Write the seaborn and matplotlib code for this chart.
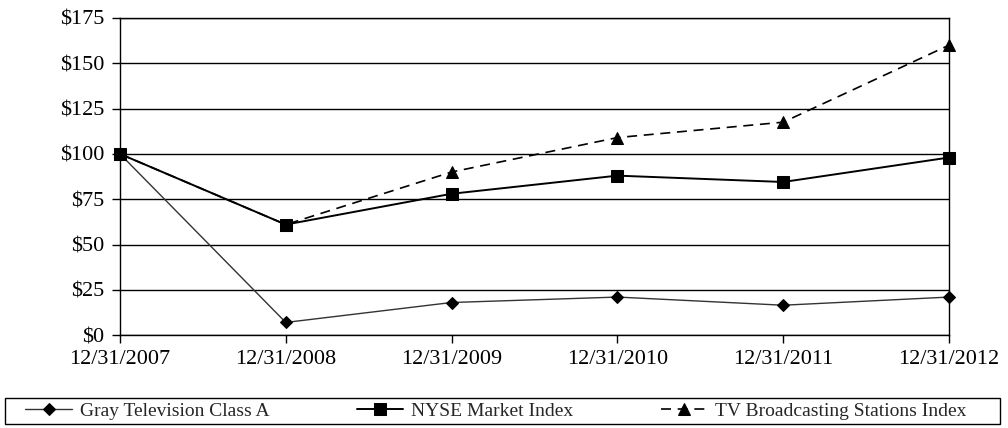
import numpy as np
import pandas as pd
import matplotlib.pyplot as plt
import seaborn as sns
from matplotlib.patches import Rectangle

dates = ["12/31/2007", "12/31/2008", "12/31/2009", "12/31/2010", "12/31/2011", "12/31/2012"]
gray_tv = [100, 7, 18, 21, 16.5, 21]
nyse = [100, 61, 78, 88, 84.5, 98]
tv_index = [100, 61, 90, 109, 117.5, 160]

series_names = ["Gray Television Class A", "NYSE Market Index", "TV Broadcasting Stations Index"]

sns.set_theme(style="white")
plt.rcParams["font.family"] = ["Liberation Serif", "DejaVu Serif"]

df = pd.DataFrame({
    "pos": list(range(len(dates))) * 3,
    "value": gray_tv + nyse + tv_index,
    "series": sum([[n] * len(dates) for n in series_names], []),
})

fig = plt.figure(figsize=(10.08, 4.28), dpi=100)
ax = fig.add_axes([0.119, 0.217, 0.8225, 0.741])

styles = {
    "Gray Television Class A": dict(color="#333333", lw=1.0, marker="D", ms=6, ls="-"),
    "NYSE Market Index": dict(color="black", lw=1.4, marker="s", ms=8, ls="-"),
    "TV Broadcasting Stations Index": dict(color="black", lw=1.2, marker="^", ms=8, ls=(0, (6, 4))),
}
for name in series_names:
    st = styles[name]
    sub = df[df["series"] == name]
    sns.lineplot(data=sub, x="pos", y="value", ax=ax, color=st["color"], linewidth=st["lw"],
                 marker=st["marker"], markersize=st["ms"], linestyle=st["ls"],
                 markeredgecolor="black", markerfacecolor="black", label=name, legend=False,
                 clip_on=False, zorder=3)

ax.set_xlim(0, len(dates) - 1)
ax.set_ylim(0, 175)
ax.set_yticks(np.arange(0, 176, 25))
ax.set_yticklabels([f"${v}" for v in range(0, 176, 25)])
ax.set_xticks(range(len(dates)))
ax.set_xticklabels(dates)
ax.set_xlabel("")
ax.set_ylabel("")
ax.yaxis.grid(True, color="black", lw=1.0)
ax.set_axisbelow(True)
for sp in ax.spines.values():
    sp.set_color("black")
    sp.set_linewidth(1.0)
ax.tick_params(axis="both", which="major", direction="out", length=6, width=1,
               color="black", labelsize=16, labelcolor="black", pad=5, bottom=True, left=True)

# legend box spanning the figure width, entries centred inside
fig.patches.append(Rectangle((0.005, 0.009), 0.987, 0.061, transform=fig.transFigure,
                             fill=False, edgecolor="black", lw=1.0))
handles, labels = ax.get_legend_handles_labels()
fig.legend(handles, labels, loc="center", bbox_to_anchor=(0.492, 0.0395),
           ncol=3, frameon=False, fontsize=14, handlelength=2.4, handletextpad=0.4,
           borderpad=0.0, columnspacing=4.5)

fig.savefig("out.png", dpi=100)
